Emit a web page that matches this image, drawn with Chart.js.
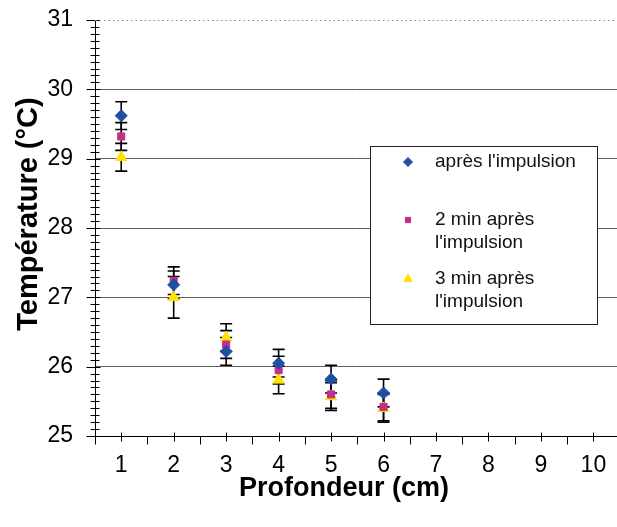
<!DOCTYPE html>
<html>
<head>
<meta charset="utf-8">
<script src="https://cdn.jsdelivr.net/npm/chart.js@4.4.0/dist/chart.umd.min.js"></script>
<style>
  html, body { margin: 0; padding: 0; background: #fff; overflow: hidden; }
</style>
</head>
<body>
<canvas id="tempChart" width="617" height="527"></canvas>
<script>
// ================= DATA =================
const depths = [1, 2, 3, 4, 5, 6];
const xTickLabels = [1, 2, 3, 4, 5, 6, 7, 8, 9, 10];
const yTickLabels = [25, 26, 27, 28, 29, 30, 31];

const labelAfter = ["après l'impulsion"];
const label2min = ["2 min après", "l'impulsion"];
const label3min = ["3 min après", "l'impulsion"];

const tempAfter = [29.62, 27.18, 26.22, 26.05, 25.82, 25.62];
const temp2min = [29.32, 27.24, 26.32, 25.95, 25.60, 25.42];
const temp3min = [29.02, 27.00, 26.42, 25.81, 25.57, 25.40];

const errAfter = [0.2, 0.2, 0.2, 0.2, 0.2, 0.2];
const err2min = [0.2, 0.2, 0.2, 0.2, 0.2, 0.2];
const err3min = [0.2, 0.3, 0.2, 0.2, 0.2, 0.2];

const FONT = "'Liberation Sans', Arial, sans-serif";
const isWhole = v => Math.abs(v - Math.round(v)) < 1e-6;
const toPoints = vals => depths.map((d, i) => ({ x: d, y: vals[i] }));

// error bars go under the markers
const errorBars = {
  id: "errorBars",
  beforeDatasetsDraw(chart) {
    const { ctx, scales: { x, y } } = chart;
    ctx.save();
    ctx.strokeStyle = "#000";
    ctx.lineWidth = 1.6;
    chart.data.datasets.forEach(ds => {
      ds.data.forEach((p, i) => {
        const e = ds.errors[i];
        const px = x.getPixelForValue(p.x);
        const top = y.getPixelForValue(p.y + e);
        const bot = y.getPixelForValue(p.y - e);
        ctx.beginPath();
        ctx.moveTo(px, top); ctx.lineTo(px, bot);
        ctx.moveTo(px - 6, top); ctx.lineTo(px + 6, top);
        ctx.moveTo(px - 6, bot); ctx.lineTo(px + 6, bot);
        ctx.stroke();
      });
    });
    ctx.restore();
  }
};

// tick marks crossing the axes + dotted top line
const axisTicks = {
  id: "axisTicks",
  afterDraw(chart) {
    const { ctx, scales: { x, y }, chartArea } = chart;
    ctx.save();
    ctx.strokeStyle = "#000";
    ctx.lineWidth = 1;
    const left = chartArea.left + 0.5;
    y.ticks.forEach(t => {
      const py = Math.round(y.getPixelForValue(t.value)) + 0.5;
      const big = isWhole(t.value);
      ctx.beginPath();
      ctx.moveTo(left - (big ? 9 : 5), py);
      ctx.lineTo(left + (big ? 5 : 4), py);
      ctx.stroke();
    });
    const bottom = chartArea.bottom + 0.5;
    x.ticks.forEach(t => {
      if (!isWhole(t.value * 2)) return;
      const px = Math.round(x.getPixelForValue(t.value)) + 0.5;
      const big = isWhole(t.value);
      ctx.beginPath();
      ctx.moveTo(px, bottom - (big ? 4 : 0));
      ctx.lineTo(px, bottom + (big ? 5 : 8));
      ctx.stroke();
    });
    // dotted line at the top value
    const topY = Math.round(y.getPixelForValue(y.max)) + 0.5;
    ctx.strokeStyle = "#8a8a8a";
    ctx.setLineDash([1.5, 3]);
    ctx.beginPath();
    ctx.moveTo(chartArea.left, topY);
    ctx.lineTo(chartArea.right, topY);
    ctx.stroke();
    ctx.restore();
  }
};

// axis titles, a little off the plot centre as in the original sheet
const axisTitles = {
  id: "axisTitles",
  afterDraw(chart, args, opts) {
    const { ctx, chartArea } = chart;
    ctx.save();
    ctx.fillStyle = "#000";
    ctx.font = `bold ${opts.fontSize}px ${FONT}`;
    ctx.textAlign = "center";
    ctx.textBaseline = "middle";
    const cx = (chartArea.left + chartArea.right) / 2;
    const cy = (chartArea.top + chartArea.bottom) / 2;
    ctx.fillText(opts.xText, cx + opts.xShift, opts.xTitleY);
    ctx.translate(opts.yTitleX, cy + opts.yShift);
    ctx.rotate(-Math.PI / 2);
    ctx.font = `bold ${opts.yFontSize}px ${FONT}`;
    ctx.fillText(opts.yText, 0, 0);
    ctx.restore();
  }
};

// boxed legend with two-line labels
const boxLegend = {
  id: "boxLegend",
  afterDraw(chart, args, opts) {
    const { ctx } = chart;
    ctx.save();
    ctx.fillStyle = "#fff";
    ctx.fillRect(opts.left, opts.top, opts.width, opts.height);
    ctx.strokeStyle = "#222";
    ctx.lineWidth = 1;
    ctx.strokeRect(opts.left + 0.5, opts.top + 0.5, opts.width, opts.height);
    ctx.font = `${opts.fontSize}px ${FONT}`;
    ctx.textBaseline = "middle";
    chart.data.datasets.forEach((ds, i) => {
      const rowY = opts.rows[i];
      ctx.fillStyle = ds.backgroundColor;
      ctx.strokeStyle = ds.borderColor;
      Chart.helpers.drawPoint(ctx, {
        pointStyle: ds.pointStyle, radius: ds.pointRadius * 0.75, borderWidth: 1, rotation: 0
      }, opts.markerX, rowY);
      ctx.fillStyle = "#111";
      ds.label.forEach((line, j) => {
        ctx.fillText(line, opts.textX, rowY + j * opts.lineGap);
      });
    });
    ctx.restore();
  }
};

new Chart(document.getElementById("tempChart"), {
  type: "scatter",
  data: {
    datasets: [
      {
        label: labelAfter, data: toPoints(tempAfter), errors: errAfter,
        pointStyle: "rectRot", pointRadius: 6,
        backgroundColor: "#1f4fa3", borderColor: "#1f4fa3"
      },
      {
        label: label2min, data: toPoints(temp2min), errors: err2min,
        pointStyle: "rect", pointRadius: 5,
        backgroundColor: "#c42d8e", borderColor: "#c42d8e"
      },
      {
        label: label3min, data: toPoints(temp3min), errors: err3min,
        pointStyle: "triangle", pointRadius: 6.5,
        backgroundColor: "#ffe200", borderColor: "#ffe200"
      }
    ]
  },
  options: {
    responsive: false,
    animation: false,
    layout: { autoPadding: false, padding: { top: 20, right: 0, bottom: 0, left: 0 } },
    plugins: {
      legend: { display: false },
      tooltip: { enabled: false },
      axisTitles: {
        xText: "Profondeur (cm)", yText: "Température (°C)",
        fontSize: 27, yFontSize: 29, xTitleY: 489, xShift: -12, yTitleX: 29, yShift: -14
      },
      boxLegend: {
        left: 370, top: 146, width: 227, height: 178,
        markerX: 408, textX: 435, rows: [162, 220, 279], lineGap: 23, fontSize: 19
      }
    },
    scales: {
      x: {
        type: "linear", min: 0.5, max: 10.45,
        afterFit: s => { s.height = 91; s.paddingLeft = 0; s.paddingRight = 0; },
        grid: { display: false, drawTicks: false },
        border: { color: "#000", width: 1 },
        ticks: {
          stepSize: 0.5, autoSkip: false, maxRotation: 0, includeBounds: false,
          maxTicksLimit: 40, padding: 16, color: "#000",
          font: { family: FONT, size: 23 },
          callback: v => xTickLabels.includes(v) ? String(v) : ""
        }
      },
      y: {
        min: 25, max: 31,
        afterFit: s => { s.width = 95; s.paddingTop = 0; s.paddingBottom = 0; },
        grid: {
          drawTicks: false,
          color: c => (isWhole(c.tick.value) && c.tick.value > 25 && c.tick.value < 31) ? "#5f5f5f" : "rgba(0,0,0,0)"
        },
        border: { color: "#000", width: 1 },
        ticks: {
          stepSize: 0.1, autoSkip: false, maxTicksLimit: 100, padding: 22, color: "#000",
          font: { family: FONT, size: 23 },
          callback: v => yTickLabels.includes(Math.round(v * 1000) / 1000) ? String(Math.round(v)) : ""
        }
      }
    }
  },
  plugins: [errorBars, axisTicks, axisTitles, boxLegend]
});
</script>
</body>
</html>
